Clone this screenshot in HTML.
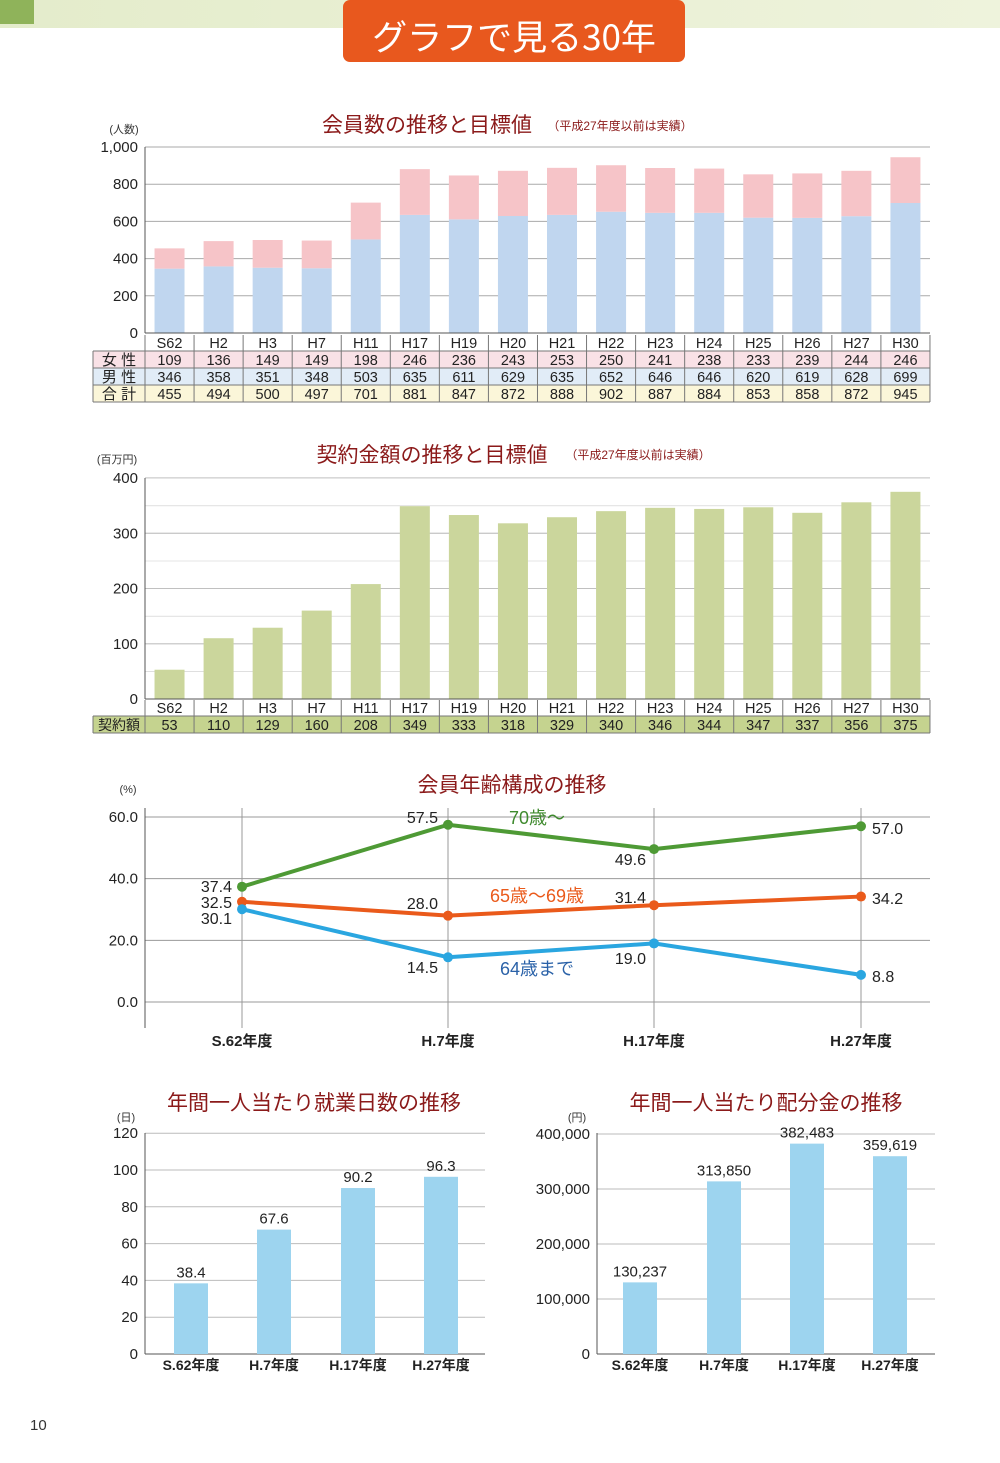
<!DOCTYPE html>
<html><head><meta charset="utf-8">
<style>
html,body{margin:0;padding:0;background:#fff;}
svg{display:block;font-family:"Liberation Sans","Noto Sans CJK JP",sans-serif;}
</style></head><body>
<svg id="s" width="1000" height="1463" viewBox="0 0 1000 1463" xmlns="http://www.w3.org/2000/svg">
<defs><linearGradient id="hg" x1="0" x2="1"><stop offset="0" stop-color="#e4eccb"/><stop offset="1" stop-color="#eef3dc"/></linearGradient></defs>
<rect x="0" y="0" width="1000" height="28" fill="url(#hg)"/>
<rect x="0" y="0" width="34" height="24" fill="#8fb35a"/>
<rect x="343" y="0" width="342" height="62" rx="7" fill="#e8581e"/>
<text x="514" y="50" text-anchor="middle" font-size="35" fill="#fff" font-family="'Noto Sans CJK JP','Liberation Sans',sans-serif">グラフで見る30年</text>
<g id="g"></g>
<text x="30" y="1430" font-size="15" fill="#333">10</text>
</svg>
<script>
const g=document.getElementById('g');let h='';
const T=(x,y,t,o={})=>{h+=`<text x="${x}" y="${y}" font-size="${o.s||14.5}" fill="${o.c||'#222'}" text-anchor="${o.a||'middle'}"${o.w?' font-weight="bold"':''}>${t}</text>`;};
const L=(x1,y1,x2,y2,c='#999',w=1)=>{h+=`<line x1="${x1}" y1="${y1}" x2="${x2}" y2="${y2}" stroke="${c}" stroke-width="${w}"/>`;};
const R=(x,y,w,ht,c,st='')=>{h+=`<rect x="${x}" y="${y}" width="${w}" height="${ht}" fill="${c}" ${st}/>`;};
const lab=['S62','H2','H3','H7','H11','H17','H19','H20','H21','H22','H23','H24','H25','H26','H27','H30'];
const f=[109,136,149,149,198,246,236,243,253,250,241,238,233,239,244,246];
const m=[346,358,351,348,503,635,611,629,635,652,646,646,620,619,628,699];
const tot=[455,494,500,497,701,881,847,872,888,902,887,884,853,858,872,945];
const X0=145,CW=49.06;
// chart1
T(427,132,'会員数の推移と目標値',{s:21,c:'#8b1a1a'});T(620,130,'（平成27年度以前は実績）',{s:12,c:'#8b1a1a'});
T(124,133,'(人数)',{s:11,c:'#333'});
for(let i=0;i<=5;i++){let y=333-i*37.2;L(145,y,930,y,'#aaa');T(138,y+5,['0','200','400','600','800','1,000'][i],{a:'end',s:15});}
L(145,147,145,333,'#555');
for(let i=0;i<16;i++){let cx=X0+CW*(i+.5);let ym=333-m[i]*0.186,yt=333-tot[i]*0.186;
R(cx-15,ym,30,333-ym,'#c0d6ef');R(cx-15,yt,30,ym-yt,'#f6c4c8');}
L(145,333,930,333,'#555');
// table1
R(93,351,837,17,'#f9e1e6');R(93,368,837,17,'#e1ecf7');R(93,385,837,17,'#fbf6d9');
for(let r of [351,368,385,402])L(93,r,930,r,'#777');
L(93,351,93,402,'#777');
for(let i=0;i<=16;i++)L(X0+CW*i,335,X0+CW*i,402,'#777');
T(119,365,'女 性',{s:15});T(119,382,'男 性',{s:15});T(119,399,'合 計',{s:15});
for(let i=0;i<16;i++){let cx=X0+CW*(i+.5);T(cx,348,lab[i]);T(cx,365,f[i]);T(cx,382,m[i]);T(cx,399,tot[i]);}
// chart2
const k=[53,110,129,160,208,349,333,318,329,340,346,344,347,337,356,375];
T(432,462,'契約金額の推移と目標値',{s:21,c:'#8b1a1a'});T(638,459,'（平成27年度以前は実績）',{s:12,c:'#8b1a1a'});
T(117,463,'(百万円)',{s:11,c:'#333'});
for(let i=0;i<=4;i++){let y=699-i*55.25;L(145,y,930,y,'#aaa');T(138,y+5,i*100,{a:'end',s:15});}
for(let i=0;i<=8;i++){let y=699-i*27.6;L(145,y,930,y,'#ccc',0.6);}
L(145,478,145,699,'#555');
for(let i=0;i<16;i++){let cx=X0+CW*(i+.5);let y=699-k[i]*0.5525;R(cx-15,y,30,699-y,'#cbd69c');}
L(145,699,930,699,'#555');
R(93,716,837,17,'#c5d38f');
L(93,716,930,716,'#777');L(93,733,930,733,'#777');L(93,716,93,733,'#777');
for(let i=0;i<=16;i++)L(X0+CW*i,700,X0+CW*i,733,'#777');
T(119,730,'契約額',{s:14});
for(let i=0;i<16;i++){let cx=X0+CW*(i+.5);T(cx,713,lab[i]);T(cx,730,k[i]);}
// chart3
T(512,792,'会員年齢構成の推移',{s:21,c:'#8b1a1a'});T(128,793,'(%)',{s:11,c:'#333'});
const yv=v=>1002-v*3.083;
for(let i=0;i<=3;i++){let y=yv(i*20);L(145,y,930,y,'#999');T(138,y+5,(i*20).toFixed(1),{a:'end',s:15});}
const px=[242,448,654,861];
px.forEach(x=>L(x,808,x,1028,'#999'));L(145,808,145,1028,'#555');
['S.62年度','H.7年度','H.17年度','H.27年度'].forEach((t,i)=>T(px[i],1046,t,{w:1,s:15}));
const ser=[[[37.4,57.5,49.6,57.0],'#4e9a35'],[[32.5,28.0,31.4,34.2],'#ea5a1b'],[[30.1,14.5,19.0,8.8],'#2aa6e0']];
ser.forEach(([d,c])=>{h+=`<polyline fill="none" stroke="${c}" stroke-width="4" points="${d.map((v,i)=>px[i]+','+yv(v)).join(' ')}"/>`;d.forEach((v,i)=>h+=`<circle cx="${px[i]}" cy="${yv(v)}" r="5" fill="${c}"/>`);});
T(232,892,'37.4',{a:'end',s:16});T(232,908,'32.5',{a:'end',s:16});T(232,924,'30.1',{a:'end',s:16});
T(438,823,'57.5',{a:'end',s:16});T(438,909,'28.0',{a:'end',s:16});T(438,973,'14.5',{a:'end',s:16});
T(646,865,'49.6',{a:'end',s:16});T(646,903,'31.4',{a:'end',s:16});T(646,964,'19.0',{a:'end',s:16});
T(872,834,'57.0',{a:'start',s:16});T(872,904,'34.2',{a:'start',s:16});T(872,982,'8.8',{a:'start',s:16});
T(537,824,'70歳〜',{s:18,c:'#3f8a2e'});T(537,902,'65歳〜69歳',{s:18,c:'#ea5a1b'});T(537,975,'64歳まで',{s:18,c:'#2b62a8'});
// chart4
T(314,1110,'年間一人当たり就業日数の推移',{s:21,c:'#8b1a1a'});T(126,1121,'(日)',{s:11,c:'#333'});
for(let i=0;i<=6;i++){let y=1354-i*36.8;L(145,y,485,y,i?'#bbb':'#555');T(138,y+5,i*20,{a:'end',s:15});}
L(145,1133,145,1354,'#555');
const d4=[38.4,67.6,90.2,96.3],c4=[191,274,358,441];
d4.forEach((v,i)=>{let y=1354-v*1.84;R(c4[i]-17,y,34,1354-y,'#9dd4ef');T(c4[i],y-6,v,{s:15});});
['S.62年度','H.7年度','H.17年度','H.27年度'].forEach((t,i)=>T(c4[i],1370,t,{w:1,s:14}));
// chart5
T(766,1110,'年間一人当たり配分金の推移',{s:21,c:'#8b1a1a'});T(577,1121,'(円)',{s:11,c:'#333'});
for(let i=0;i<=4;i++){let y=1354-i*55;L(597,y,935,y,i?'#bbb':'#555');T(590,y+5,['0','100,000','200,000','300,000','400,000'][i],{a:'end',s:15});}
L(597,1133,597,1354,'#555');
const d5=[130237,313850,382483,359619],s5=['130,237','313,850','382,483','359,619'],c5=[640,724,807,890];
d5.forEach((v,i)=>{let y=1354-v*0.00055;R(c5[i]-17,y,34,1354-y,'#9dd4ef');T(c5[i],y-6,s5[i],{s:15});});
['S.62年度','H.7年度','H.17年度','H.27年度'].forEach((t,i)=>T(c5[i],1370,t,{w:1,s:14}));
g.innerHTML=h;
</script>
</body></html>
